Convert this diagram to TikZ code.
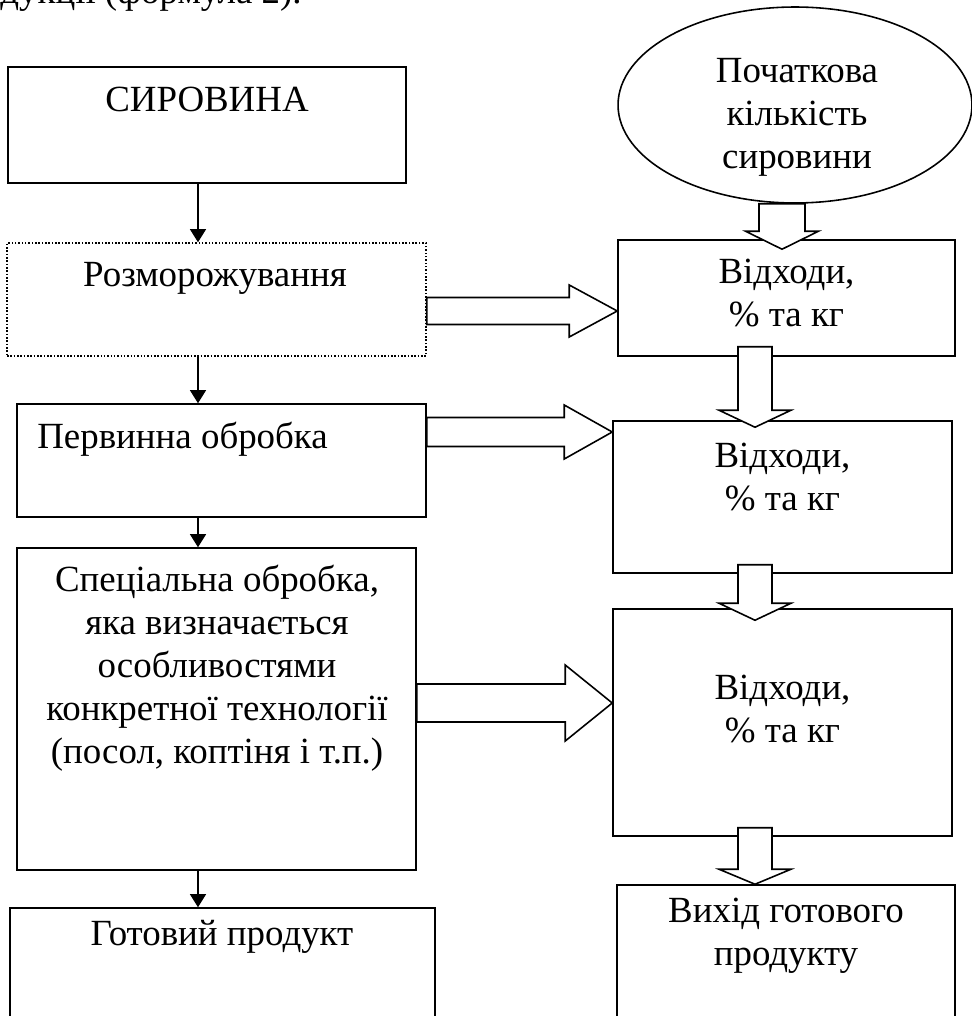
\documentclass[tikz,border=0pt]{standalone}
\usepackage{fontspec}
\setmainfont{Liberation Serif}
\usetikzlibrary{arrows.meta,shapes,calc}

% hollow block arrows: start, tip, shaft half width, head half width, head length
\newcommand{\fatright}[5]{%
  \draw[fat] let \p1=(#1), \p2=(#2) in
    (\x1,\y1-#3) -- (\x2-#5,\y1-#3) -- (\x2-#5,\y1-#4) -- (\x2,\y1)
    -- (\x2-#5,\y1+#4) -- (\x2-#5,\y1+#3) -- (\x1,\y1+#3) -- cycle;}
\newcommand{\fatdown}[5]{%
  \draw[fat] let \p1=(#1), \p2=(#2) in
    (\x1-#3,\y1) -- (\x1-#3,\y2+#5) -- (\x1-#4,\y2+#5) -- (\x1,\y2)
    -- (\x1+#4,\y2+#5) -- (\x1+#3,\y2+#5) -- (\x1+#3,\y1) -- cycle;}

\begin{document}
\begin{tikzpicture}[x=0.02cm, y=-0.02cm,
  every node/.style={font=\fontsize{21}{24.5}\selectfont},
  box/.style={draw, line width=0.9pt, inner sep=0pt},
  thawbox/.style={box, densely dotted},
  txt/.style={align=center, inner sep=0pt},
  arr/.style={line width=0.6pt, -{Triangle[length=0.26cm, width=0.32cm]}},
  fat/.style={draw, line width=0.9pt, fill=white, line join=miter}]
\useasboundingbox (0,0) rectangle (972,1016);
\clip (0,0) rectangle (972,1016);

\node[anchor=base west, inner sep=0pt] (head) at (0,4) {дукції (формула 2).};

% left column
\node[box, minimum width=7.96cm, minimum height=2.32cm] (raw) at (207,125) {};
\node[txt, anchor=base] (rawtxt) at (207,112) {СИРОВИНА};
\node[thawbox, minimum width=8.38cm, minimum height=2.26cm] (thaw) at (216.5,299.5) {};
\node[txt, anchor=base] (thawtxt) at (215,287) {Розморожування};
\node[box, minimum width=8.18cm, minimum height=2.26cm] (prim) at (221.5,460.5) {};
\node[txt, anchor=base west] (primtxt) at (37,448) {Первинна обробка};
\node[box, minimum width=7.98cm, minimum height=6.44cm] (spec) at (216.5,709) {};
\node[txt] (spectxt) at (217,668) {Спеціальна обробка,\\яка визначається\\особливостями\\конкретної технології\\(посол, коптіня і т.п.)};
\node[box, minimum width=8.5cm, minimum height=2.64cm] (ready) at (222.5,974) {};
\node[txt, anchor=base] (readytxt) at (222,945) {Готовий продукт};

% right column
\node[draw, ellipse, line width=0.9pt, inner sep=0pt, minimum width=7.08cm, minimum height=3.92cm] (src) at (795,105) {};
\node[txt] (srctxt) at (797,117) {Початкова\\кількість\\сировини};
\node[box, minimum width=6.74cm, minimum height=2.32cm] (w1) at (786.5,298) {};
\node[txt] (w1txt) at (786.5,293) {Відходи,\\\% та кг};
\node[box, minimum width=6.78cm, minimum height=3.04cm] (w2) at (782.5,497) {};
\node[txt] (w2txt) at (782.5,477) {Відходи,\\\% та кг};
\node[box, minimum width=6.78cm, minimum height=4.54cm] (w3) at (782.5,722.5) {};
\node[txt] (w3txt) at (782.5,709) {Відходи,\\\% та кг};
\node[box, minimum width=6.76cm, minimum height=3.1cm] (out) at (786,962.5) {};
\node[txt] (outtxt) at (786,936) {Вихід готового\\продукту};

% thin arrows
\coordinate (ax) at (198,0);
\draw[arr] (raw.south -| ax) -- (thaw.north -| ax);
\draw[arr] (thaw.south -| ax) -- (prim.north -| ax);
\draw[arr] (prim.south -| ax) -- (spec.north -| ax);
\draw[arr] (spec.south -| ax) -- (ready.north -| ax);

% block arrows
\coordinate (h1) at (0,311);
\coordinate (h2) at (0,432);
\coordinate (h3) at (0,703);
\fatright{thaw.east |- h1}{w1.west |- h1}{0.27cm}{0.52cm}{0.96cm}
\fatright{prim.east |- h2}{w2.west |- h2}{0.29cm}{0.54cm}{0.96cm}
\fatright{spec.east |- h3}{w3.west |- h3}{0.38cm}{0.76cm}{0.94cm}

\coordinate (v1) at (782,0);
\coordinate (v2) at (755,0);
\fatdown{src.south -| v1}{$(w1.north -| v1)+(0,10)$}{0.46cm}{0.73cm}{0.36cm}
\fatdown{$(w1.south -| v2)+(0,-10)$}{$(w2.north -| v2)+(0,7)$}{0.34cm}{0.72cm}{0.34cm}
\fatdown{$(w2.south -| v2)+(0,-9)$}{$(w3.north -| v2)+(0,12)$}{0.34cm}{0.72cm}{0.34cm}
\fatdown{$(w3.south -| v2)+(0,-9)$}{out.north -| v2}{0.34cm}{0.72cm}{0.30cm}
\end{tikzpicture}
\end{document}
